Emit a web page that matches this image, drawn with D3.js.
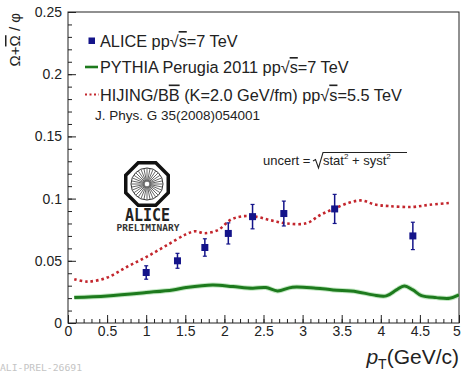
<!DOCTYPE html>
<html>
<head>
<meta charset="utf-8">
<script src="https://cdn.jsdelivr.net/npm/d3@7"></script>
<style>
  html, body { margin: 0; padding: 0; background: #fff; }
  svg { display: block; font-family: "Liberation Sans", Arial, sans-serif; }
</style>
</head>
<body>
<svg id="chart" width="461" height="372"></svg>
<script>
// ALICE data: (Ω + anti-Ω) / φ ratio vs pT
const alicePt    = [1.0, 1.4, 1.75, 2.05, 2.36, 2.76, 3.41, 4.41];
const aliceRatio = [0.0406, 0.050, 0.0607, 0.072, 0.0855, 0.088, 0.0917, 0.070];
const aliceErr   = [0.0054, 0.006, 0.007, 0.0085, 0.0098, 0.010, 0.0117, 0.011];

// PYTHIA Perugia 2011 prediction
const pythiaPt    = [0.08, 0.5, 1.0, 1.34, 1.51, 1.85, 2.11, 2.36, 2.53, 2.68, 2.87, 3.17, 3.39, 3.69, 3.9, 4.07, 4.2, 4.3, 4.41, 4.52, 4.71, 4.88, 5.0];
const pythiaRatio = [0.0204, 0.0218, 0.0245, 0.0266, 0.0285, 0.0306, 0.0293, 0.028, 0.0285, 0.0258, 0.0288, 0.028, 0.0266, 0.0252, 0.0226, 0.0218, 0.0266, 0.0298, 0.0266, 0.022, 0.0204, 0.0199, 0.0226];

// HIJING/BB̄ prediction
const hijingPt    = [0.08, 0.25, 0.5, 0.75, 1.0, 1.25, 1.5, 1.62, 1.75, 1.92, 2.08, 2.22, 2.4, 2.6, 2.8, 3.05, 3.22, 3.4, 3.6, 3.76, 3.92, 4.1, 4.4, 4.62, 4.88];
const hijingRatio = [0.0352, 0.0333, 0.0365, 0.045, 0.053, 0.062, 0.071, 0.0737, 0.0722, 0.0748, 0.083, 0.0857, 0.0855, 0.0825, 0.080, 0.0802, 0.0866, 0.0918, 0.0968, 0.0985, 0.0953, 0.094, 0.0933, 0.0950, 0.0965];

// Axis ticks
const xTicks = [0, 0.5, 1, 1.5, 2, 2.5, 3, 3.5, 4, 4.5, 5];
const xTickLabels = ["0", "0.5", "1", "1.5", "2", "2.5", "3", "3.5", "4", "4.5", "5"];
const yTicks = [0, 0.05, 0.1, 0.15, 0.2, 0.25];
const yTickLabels = ["0", "0.05", "0.1", "0.15", "0.2", "0.25"];

const svg = d3.select("#chart");
const L = 68, R = 459, T = 12, B = 323;

const x = d3.scaleLinear().domain([0, 5]).range([L, R]);
const y = d3.scaleLinear().domain([0, 0.25]).range([B, T]);

const ink = "#222";
const navy = "#14148a";
const green = "#1d7a1d";
const red = "#c3262d";

// Clip region for the curves
svg.append("defs").append("clipPath").attr("id", "plotClip")
  .append("rect").attr("x", L).attr("y", T).attr("width", R - L).attr("height", B - T);

// Minor ticks
const xMinor = d3.range(0, 5.0001, 0.1).map(v => +v.toFixed(2));
const yMinor = d3.range(0, 0.25001, 0.01).map(v => +v.toFixed(3));

svg.append("g").attr("transform", `translate(0,${B})`)
  .call(d3.axisBottom(x).tickValues(xMinor).tickSize(-4).tickFormat(""))
  .call(g => g.select(".domain").remove())
  .call(g => g.selectAll("line").attr("stroke", ink));

svg.append("g").attr("transform", `translate(${L},0)`)
  .call(d3.axisLeft(y).tickValues(yMinor).tickSize(-4).tickFormat(""))
  .call(g => g.select(".domain").remove())
  .call(g => g.selectAll("line").attr("stroke", ink));

// Major ticks with labels
svg.append("g").attr("transform", `translate(0,${B})`)
  .call(d3.axisBottom(x).tickValues(xTicks).tickSize(-8).tickPadding(3)
    .tickFormat((d, i) => xTickLabels[i]))
  .call(g => g.select(".domain").remove())
  .call(g => g.selectAll("line").attr("stroke", ink))
  .call(g => g.selectAll("text").attr("fill", ink).attr("font-size", 14)
    .attr("font-family", "Liberation Sans, Arial, sans-serif"))
  // the last label sits at the window edge; keep it fully inside
  .call(g => g.selectAll(".tick").filter(d => d === 5).select("text").attr("dx", -2.5));

svg.append("g").attr("transform", `translate(${L},0)`)
  .call(d3.axisLeft(y).tickValues(yTicks).tickSize(-8).tickPadding(6)
    .tickFormat((d, i) => yTickLabels[i]))
  .call(g => g.select(".domain").remove())
  .call(g => g.selectAll("line").attr("stroke", ink))
  .call(g => g.selectAll("text").attr("fill", ink).attr("font-size", 14)
    .attr("font-family", "Liberation Sans, Arial, sans-serif"));

// Frame
svg.append("rect").attr("x", L).attr("y", T).attr("width", R - L).attr("height", B - T)
  .attr("fill", "none").attr("stroke", ink).attr("stroke-width", 1);

// ALICE logo
const logo = svg.append("g").attr("transform", "translate(147,184)");
const octR = 23;
const octPts = d3.range(8).map(i => {
  const a = Math.PI / 8 + i * Math.PI / 4;
  return [octR * Math.cos(a), octR * Math.sin(a)];
});
logo.append("polygon").attr("points", octPts.map(p => p.join(",")).join(" "))
  .attr("fill", "#fff").attr("stroke", "#111").attr("stroke-width", 3.5);
logo.append("circle").attr("r", 16).attr("fill", "none").attr("stroke", "#333").attr("stroke-width", 1);
d3.range(32).forEach(i => {
  const a = i * Math.PI / 16;
  logo.append("line")
    .attr("x1", 2.5 * Math.cos(a)).attr("y1", 2.5 * Math.sin(a))
    .attr("x2", 15.5 * Math.cos(a)).attr("y2", 15.5 * Math.sin(a))
    .attr("stroke", "#555").attr("stroke-width", 0.9);
});
svg.append("text").attr("x", 125).attr("y", 221).attr("font-size", 17).attr("font-weight", "bold")
  .attr("font-family", "DejaVu Sans Mono, monospace").attr("fill", "#222")
  .attr("textLength", 45).attr("lengthAdjust", "spacingAndGlyphs").text("ALICE");
svg.append("text").attr("x", 116.5).attr("y", 231).attr("font-size", 8).attr("font-weight", "bold")
  .attr("font-family", "DejaVu Sans Mono, monospace").attr("fill", "#333")
  .attr("textLength", 63).attr("lengthAdjust", "spacingAndGlyphs").text("PRELIMINARY");

// PYTHIA curve
const pythiaLine = d3.line().x(d => x(d[0])).y(d => y(d[1])).curve(d3.curveCatmullRom);
const pythiaData = pythiaPt.map((p, i) => [p, pythiaRatio[i]]);
const plot = svg.append("g").attr("clip-path", "url(#plotClip)");
plot.append("path").datum(pythiaData).attr("d", pythiaLine)
  .attr("fill", "none").attr("stroke", "#9bd89b").attr("stroke-width", 5).attr("opacity", 0.6);
plot.append("path").datum(pythiaData).attr("d", pythiaLine)
  .attr("fill", "none").attr("stroke", green).attr("stroke-width", 3);

// ALICE points with error bars
const pts = svg.append("g");
alicePt.forEach((p, i) => {
  const cx = x(p), cy = y(aliceRatio[i]);
  const y1 = y(aliceRatio[i] + aliceErr[i]), y2 = y(aliceRatio[i] - aliceErr[i]);
  pts.append("line").attr("x1", cx).attr("x2", cx).attr("y1", y1).attr("y2", y2)
    .attr("stroke", navy).attr("stroke-width", 1.5);
  [y1, y2].forEach(yy => pts.append("line").attr("x1", cx - 2).attr("x2", cx + 2)
    .attr("y1", yy).attr("y2", yy).attr("stroke", navy).attr("stroke-width", 1.2));
  pts.append("rect").attr("x", cx - 3.5).attr("y", cy - 3.5).attr("width", 7).attr("height", 7)
    .attr("fill", navy);
});

// HIJING curve (dotted)
const hijingLine = d3.line().x(d => x(d[0])).y(d => y(d[1])).curve(d3.curveCatmullRom);
plot.append("path").datum(hijingPt.map((p, i) => [p, hijingRatio[i]])).attr("d", hijingLine)
  .attr("fill", "none").attr("stroke", red).attr("stroke-width", 2.6)
  .attr("stroke-dasharray", "2.6 2.9");

// Legend
const lg = svg.append("g").attr("font-size", 16.3).attr("fill", ink);
lg.append("rect").attr("x", 88.5).attr("y", 37.5).attr("width", 6.5).attr("height", 6.5).attr("fill", navy);
const t1 = lg.append("text").attr("x", 100).attr("y", 47);
t1.append("tspan").text("ALICE pp√");
t1.append("tspan").attr("text-decoration", "overline").text("s");
t1.append("tspan").text("=7 TeV");

lg.append("line").attr("x1", 85).attr("x2", 98).attr("y1", 67).attr("y2", 67)
  .attr("stroke", green).attr("stroke-width", 2.6);
const t2 = lg.append("text").attr("x", 100).attr("y", 73);
t2.append("tspan").text("PYTHIA Perugia 2011 pp√");
t2.append("tspan").attr("text-decoration", "overline").text("s");
t2.append("tspan").text("=7 TeV");

lg.append("line").attr("x1", 85).attr("x2", 99).attr("y1", 94.5).attr("y2", 94.5)
  .attr("stroke", red).attr("stroke-width", 2).attr("stroke-dasharray", "2 2.5");
const t3 = lg.append("text").attr("x", 100).attr("y", 100.5);
t3.append("tspan").text("HIJING/B");
t3.append("tspan").attr("text-decoration", "overline").text("B");
t3.append("tspan").text(" (K=2.0 GeV/fm) pp√");
t3.append("tspan").attr("text-decoration", "overline").text("s");
t3.append("tspan").text("=5.5 TeV");

lg.append("text").attr("x", 95).attr("y", 120).attr("font-size", 13.5).text("J. Phys. G 35(2008)054001");

// Uncertainty note
const un = svg.append("g").attr("fill", ink);
un.append("text").attr("x", 263).attr("y", 165).attr("font-size", 13).text("uncert =");
un.append("path").attr("d", "M313,161 L315.5,159.5 L318.5,168 L323,152.5 L407,152.5")
  .attr("fill", "none").attr("stroke", ink).attr("stroke-width", 1.1);
const ut = un.append("text").attr("x", 323).attr("y", 165).attr("font-size", 13);
ut.append("tspan").text("stat");
ut.append("tspan").attr("font-size", 8).attr("dy", -6).text("2");
ut.append("tspan").attr("dy", 6).text(" + syst");
ut.append("tspan").attr("font-size", 8).attr("dy", -6).text("2");

// Axis titles
const yt = svg.append("text").attr("transform", "translate(20,13) rotate(-90)")
  .attr("text-anchor", "end").attr("font-size", 15).attr("fill", ink);
yt.append("tspan").text("Ω+");
yt.append("tspan").attr("text-decoration", "overline").text("Ω");
yt.append("tspan").text(" / φ");

const xt = svg.append("text").attr("x", 459).attr("y", 364).attr("text-anchor", "end")
  .attr("font-size", 21).attr("fill", ink);
xt.append("tspan").attr("font-style", "italic").text("p");
xt.append("tspan").attr("font-size", 14).attr("dy", 5).text("T");
xt.append("tspan").attr("dy", -5).text("(GeV/c)");

// Figure id
svg.append("text").attr("x", 0).attr("y", 371).attr("font-size", 8)
  .attr("font-family", "DejaVu Sans Mono, monospace").attr("fill", "#c4c4c4")
  .attr("textLength", 82).attr("lengthAdjust", "spacingAndGlyphs").text("ALI-PREL-26691");
</script>
</body>
</html>
